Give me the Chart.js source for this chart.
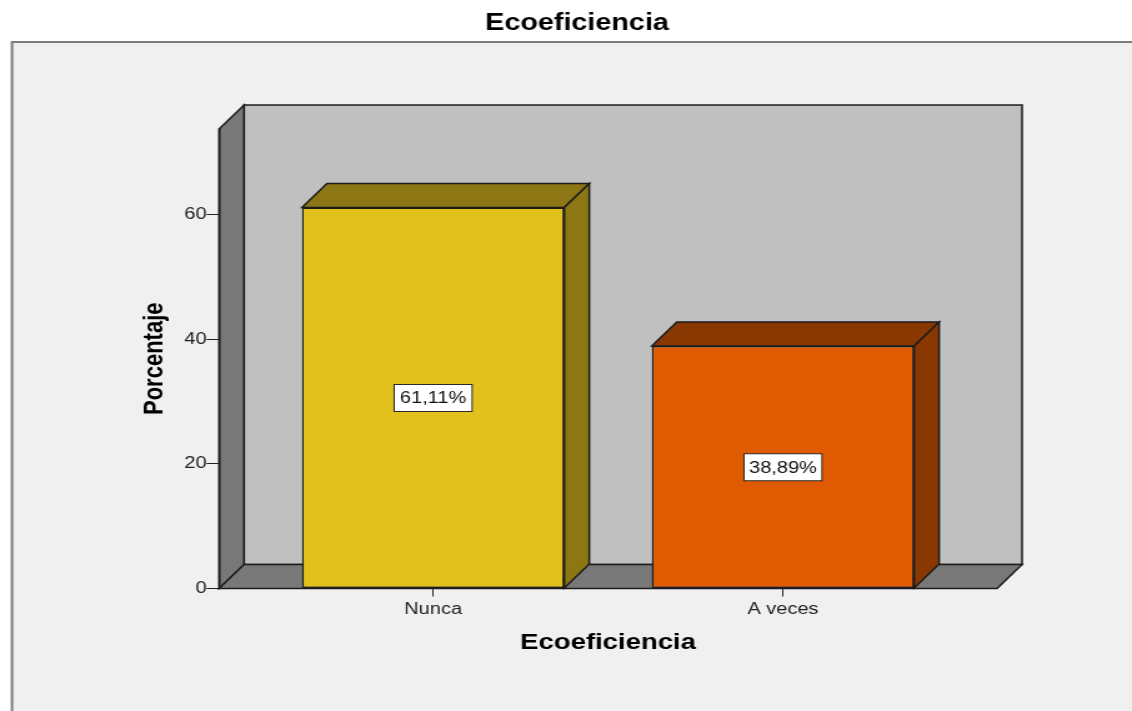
<!DOCTYPE html>
<html><head><meta charset="utf-8">
<script src="https://cdn.jsdelivr.net/npm/chart.js@4"></script>
<style>html,body{margin:0;padding:0;background:#fff;overflow:hidden}canvas{display:block}</style>
</head><body>
<canvas id="c" width="906" height="711" style="width:1132px;height:711px"></canvas>
<script>
// ---- data ----
const chartTitle = 'Ecoeficiencia';
const xAxisTitle = 'Ecoeficiencia';
const yAxisTitle = 'Porcentaje';
const categories = ['Nunca', 'A veces'];
const percentValues = [61.11, 38.89];
const yTickValues = [0, 20, 40, 60];
const yAxisMax = 73.7;

// ---- styles ----
const FRONT = ['#e3c11d', '#e05a02'];
const DARK = ['#8c7714', '#8a3802'];
const EDGE = '#1c1c1c';
const DEPTH_X = 20, DEPTH_Y = 24;
const FONT = "'Liberation Sans', Arial, sans-serif";

function poly(ctx, pts, fill, stroke, lw) {
  ctx.beginPath();
  ctx.moveTo(pts[0][0], pts[0][1]);
  for (let i = 1; i < pts.length; i++) ctx.lineTo(pts[i][0], pts[i][1]);
  ctx.closePath();
  ctx.fillStyle = fill; ctx.fill();
  ctx.lineWidth = lw; ctx.strokeStyle = stroke; ctx.lineJoin = 'miter'; ctx.stroke();
}

const frame3d = {
  id: 'frame3d',
  beforeDraw(chart) {
    const {ctx, width, height, chartArea: a} = chart;
    ctx.save();
    ctx.fillStyle = '#ffffff'; ctx.fillRect(0, 0, width, height);
    ctx.fillStyle = '#f0f0f0'; ctx.fillRect(9.6, 42, width, height);
    ctx.strokeStyle = '#7c7c7c'; ctx.lineWidth = 2;
    ctx.beginPath(); ctx.moveTo(9.6, height + 2); ctx.lineTo(9.6, 42); ctx.lineTo(width + 2, 42); ctx.stroke();
    const L = a.left, R = a.right, T = a.top, B = a.bottom, dx = DEPTH_X, dy = -DEPTH_Y;
    poly(ctx, [[L + dx, T + dy], [R + dx, T + dy], [R + dx, B + dy], [L + dx, B + dy]], '#c0c0c0', EDGE, 1.5);
    poly(ctx, [[L, T], [L + dx, T + dy], [L + dx, B + dy], [L, B]], '#787878', EDGE, 1.5);
    poly(ctx, [[L, B], [L + dx, B + dy], [R + dx, B + dy], [R, B]], '#787878', EDGE, 1.5);
    ctx.restore();
  },
  afterDatasetsDraw(chart) {
    const ctx = chart.ctx;
    const meta = chart.getDatasetMeta(0);
    const dx = DEPTH_X, dy = -DEPTH_Y;
    ctx.save();
    meta.data.forEach((bar, i) => {
      const p = bar.getProps(['x', 'y', 'base', 'width'], true);
      const l = p.x - p.width / 2, r = p.x + p.width / 2;
      const t = Math.min(p.y, p.base), b = Math.max(p.y, p.base);
      poly(ctx, [[l, t], [l + dx, t + dy], [r + dx, t + dy], [r, t]], DARK[i], EDGE, 1.5);
      poly(ctx, [[r, t], [r + dx, t + dy], [r + dx, b + dy], [r, b]], DARK[i], EDGE, 1.5);
    });
    // value labels
    ctx.font = '16px ' + FONT;
    ctx.textAlign = 'center';
    ctx.textBaseline = 'middle';
    meta.data.forEach((bar, i) => {
      const v = percentValues[i];
      const txt = v.toFixed(2).replace('.', ',') + '%';
      const cy = chart.scales.y.getPixelForValue(v / 2);
      const cx = bar.x;
      const w = 62.4, h = 27;
      ctx.fillStyle = '#ffffff';
      ctx.fillRect(cx - w / 2, cy - h / 2, w, h);
      ctx.strokeStyle = '#2a2a2a'; ctx.lineWidth = 1;
      ctx.strokeRect(cx - w / 2, cy - h / 2, w, h);
      ctx.fillStyle = '#111111';
      ctx.fillText(txt, cx, cy + 1);
    });
    ctx.restore();
  }
};

new Chart(document.getElementById('c'), {
  type: 'bar',
  data: {
    datasets: [{
      data: percentValues.map((v, i) => ({x: i, y: v})),
      backgroundColor: FRONT,
      borderColor: EDGE,
      borderWidth: 1.5,
      borderSkipped: false,
      barPercentage: 0.75,
      categoryPercentage: 1.0
    }]
  },
  options: {
    responsive: false,
    animation: false,
    devicePixelRatio: 1,
    layout: {padding: {left: 17.6, right: 0, top: 0, bottom: 0}},
    plugins: {
      legend: {display: false},
      tooltip: {enabled: false},
      title: {
        display: true, text: chartTitle, color: '#000',
        font: {family: FONT, size: 23, weight: 'bold'},
        padding: {top: 9.9, bottom: 91.5}
      }
    },
    scales: {
      x: {
        type: 'linear', min: -0.612, max: 1.612, offset: false,
        afterBuildTicks: (s) => { s.ticks = categories.map((_, i) => ({value: i})); },
        afterFit: (s) => { s.height = 122.5; },
        ticks: {
          callback: (v) => categories[v] ?? '',
          font: {family: FONT, size: 16}, color: '#222', padding: 3,
          maxRotation: 0, autoSkip: false
        },
        grid: {display: true, offset: false, drawOnChartArea: false, drawTicks: true, tickLength: 8, color: '#222', lineWidth: 1},
        border: {display: false},
        title: {display: true, text: xAxisTitle, color: '#000', font: {family: FONT, size: 22, weight: 'bold'}, padding: {top: 0, bottom: 55.3}}
      },
      y: {
        type: 'linear', min: 0, max: yAxisMax, position: 'left',
        afterBuildTicks: (s) => { s.ticks = yTickValues.map(v => ({value: v})); },
        afterFit: (s) => { s.width = 157.7; },
        ticks: {font: {family: FONT, size: 16}, color: '#222', padding: 0},
        grid: {display: true, drawOnChartArea: false, drawTicks: true, tickLength: 10, color: '#222', lineWidth: 1},
        border: {display: true, color: EDGE, width: 1.5},
        title: {display: true, text: yAxisTitle, color: '#000', font: {family: FONT, size: 22, weight: 'bold'}, padding: {top: 93.2, bottom: 0}}
      },
      y2: {
        type: 'linear', position: 'right', display: true,
        grid: {display: false}, ticks: {display: false}, border: {display: false},
        afterFit: (s) => { s.width = 108; }
      }
    }
  },
  plugins: [frame3d]
});
</script>
</body></html>
